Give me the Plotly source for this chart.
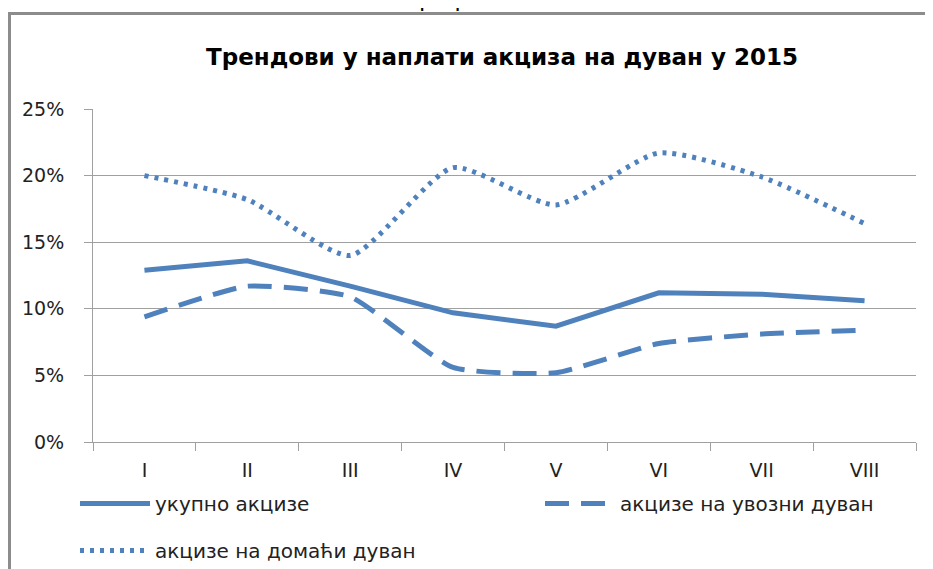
import plotly.graph_objects as go

months = ["I", "II", "III", "IV", "V", "VI", "VII", "VIII"]
total = [0.129, 0.136, 0.117, 0.097, 0.087, 0.112, 0.111, 0.106]
imported = [0.094, 0.117, 0.109, 0.056, 0.052, 0.074, 0.081, 0.084]
domestic = [0.200, 0.182, 0.140, 0.206, 0.178, 0.217, 0.199, 0.164]
yticks = [0, 0.05, 0.10, 0.15, 0.20, 0.25]
yticklabels = ["0%", "5%", "10%", "15%", "20%", "25%"]

names = ["укупно акцизе", "акцизе на увозни дуван", "акцизе на домаћи дуван"]
BLUE = "#4F81BD"
FONT = "DejaVu Sans"

# page body has an 8px margin; figure drawn at (8, 8) of the screenshot
OFF = 8
W, H = 933 - OFF, 569 - OFF
L, R, T, B = 85, 17, 101, 127
PW, PH = W - L - R, H - T - B

def px(x):  # screenshot x -> paper
    return (x - OFF - L) / PW

def py(y):  # screenshot y -> paper
    return (H - B - (y - OFF)) / PH

fig = go.Figure()
fig.add_trace(go.Scatter(x=months, y=total, name=names[0], mode="lines",
                         legend="legend", legendgroup="a",
                         line=dict(color=BLUE, width=5)))
fig.add_trace(go.Scatter(x=months, y=imported, name=names[1], mode="lines",
                         legend="legend2",
                         line=dict(color=BLUE, width=5, dash="24px,12px", shape="spline", smoothing=0.5)))
fig.add_trace(go.Scatter(x=months, y=domestic, name=names[2], mode="lines",
                         legend="legend", legendgroup="b",
                         line=dict(color=BLUE, width=5, dash="4px,6px", shape="spline", smoothing=0.6)))

legfont = dict(size=20, family=FONT, color="#222")
fig.update_layout(
    width=W, height=H,
    margin=dict(l=L, r=R, t=T, b=B, autoexpand=False),
    paper_bgcolor="white", plot_bgcolor="white",
    font=dict(family=FONT, size=17, color="#222"),
    showlegend=True,
    legend=dict(orientation="v", x=px(75), xanchor="left", y=py(484), yanchor="top",
                font=legfont, itemwidth=70, tracegroupgap=18, bgcolor="rgba(0,0,0,0)"),
    legend2=dict(orientation="v", x=px(540), xanchor="left", y=py(484), yanchor="top",
                 font=legfont, itemwidth=70, bgcolor="rgba(0,0,0,0)"),
    xaxis=dict(range=[-0.5, 7.5], showgrid=False, showline=True, linecolor="#A0A0A0", linewidth=1,
               ticks="outside", ticklen=8, tickcolor="#A0A0A0", tickson="boundaries",
               tickfont=dict(size=19, family=FONT, color="#222"), ticklabelstandoff=11,
               fixedrange=True),
    yaxis=dict(range=[0, 0.25], tickvals=yticks, ticktext=yticklabels,
               showgrid=True, gridcolor="#A0A0A0", gridwidth=1,
               showline=True, linecolor="#A0A0A0", linewidth=1,
               ticks="outside", ticklen=8, tickcolor="#A0A0A0",
               tickfont=dict(size=19, family=FONT, color="#222"), ticklabelstandoff=16,
               zeroline=False, fixedrange=True),
)

# outer chart frame
fig.add_shape(type="rect", xref="paper", yref="paper",
              x0=px(9.5), x1=px(960), y0=py(600), y1=py(13.5),
              line=dict(color="#8C8C8C", width=3), fillcolor="rgba(0,0,0,0)", layer="below")

fig.add_annotation(text="<b>Трендови у наплати акциза на дуван у 2015</b>",
                   xref="paper", yref="paper", x=px(502), y=py(57),
                   xanchor="center", yanchor="middle", showarrow=False,
                   font=dict(size=23, family="DejaVu Sans", color="#000"))
fig.add_annotation(text="Графикон 6", xref="paper", yref="paper", x=px(476), y=py(13),
                   xanchor="center", yanchor="bottom", showarrow=False,
                   font=dict(size=23, family="DejaVu Sans", color="#000"))

fig.write_html("out.html")
